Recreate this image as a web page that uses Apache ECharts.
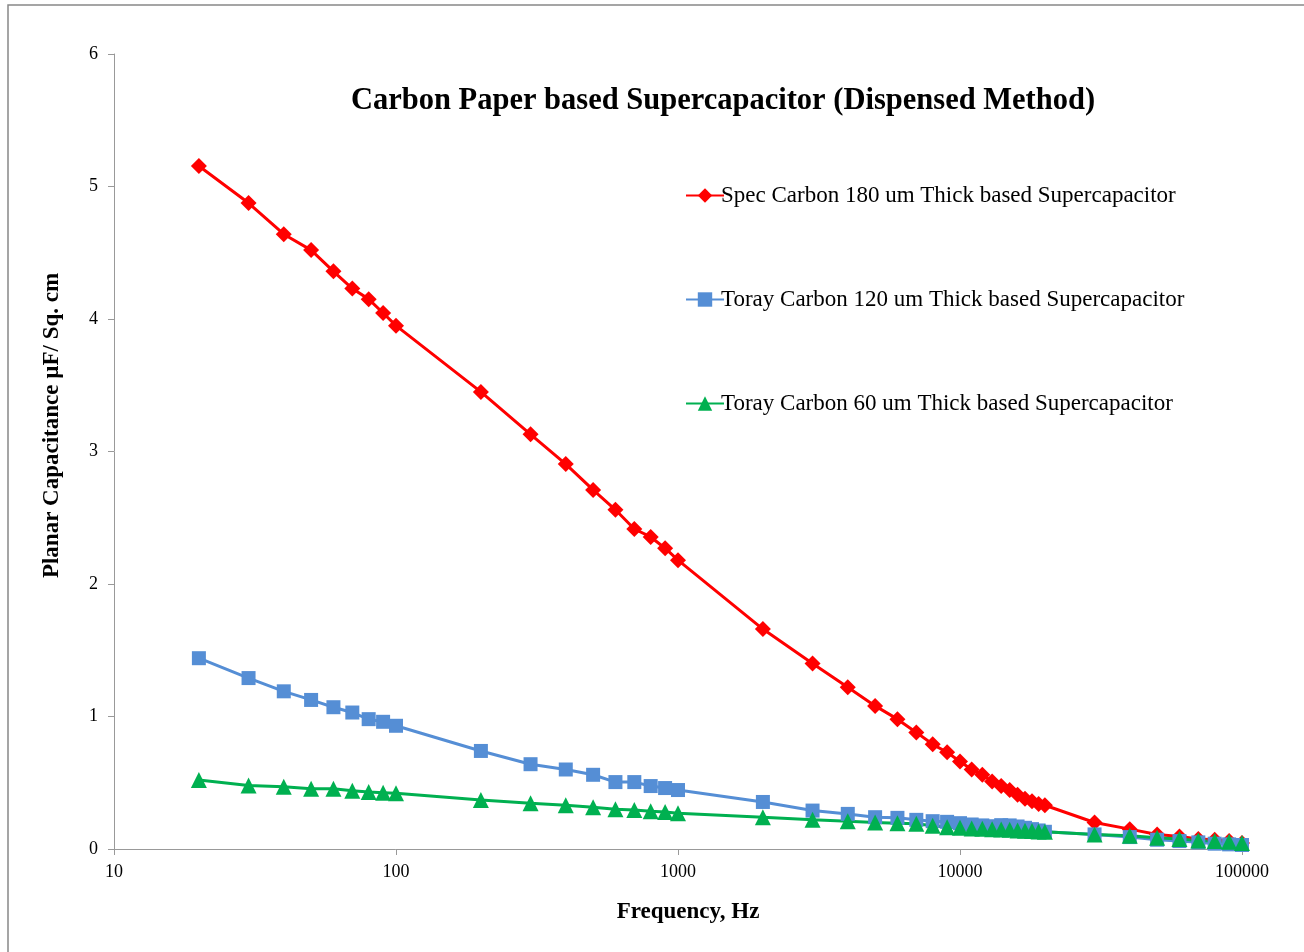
<!DOCTYPE html>
<html>
<head>
<meta charset="utf-8">
<script src="https://cdn.jsdelivr.net/npm/echarts@6/dist/echarts.min.js"></script>
<style>html,body{margin:0;padding:0;background:#fff}#c{width:1304px;height:952px}</style>
</head>
<body>
<div id="c"></div>
<script>
const freqs = [20,30,40,50,60,70,80,90,100,200,300,400,500,600,700,800,900,1000,2000,3000,4000,5000,6000,7000,8000,9000,10000,11000,12000,13000,14000,15000,16000,17000,18000,19000,20000,30000,40000,50000,60000,70000,80000,90000,100000];
const specCarbon180 = [5.155,4.875,4.64,4.52,4.36,4.23,4.15,4.045,3.95,3.45,3.13,2.905,2.71,2.56,2.415,2.355,2.27,2.18,1.66,1.40,1.22,1.08,0.98,0.88,0.79,0.73,0.66,0.60,0.56,0.51,0.475,0.445,0.41,0.38,0.36,0.34,0.33,0.20,0.15,0.11,0.095,0.075,0.07,0.06,0.045];
const toray120 = [1.44,1.29,1.19,1.125,1.07,1.03,0.98,0.96,0.93,0.74,0.64,0.60,0.56,0.505,0.505,0.475,0.46,0.445,0.355,0.29,0.265,0.24,0.235,0.22,0.21,0.205,0.195,0.185,0.178,0.172,0.18,0.178,0.17,0.16,0.15,0.14,0.13,0.11,0.09,0.07,0.06,0.05,0.04,0.035,0.03];
const toray60 = [0.52,0.48,0.47,0.455,0.455,0.44,0.43,0.425,0.42,0.37,0.345,0.33,0.315,0.30,0.295,0.285,0.28,0.27,0.24,0.22,0.21,0.20,0.195,0.19,0.175,0.165,0.16,0.155,0.152,0.15,0.148,0.145,0.14,0.138,0.135,0.132,0.13,0.11,0.10,0.085,0.075,0.065,0.06,0.055,0.045];
const seriesNames = ['Spec Carbon 180 um Thick based Supercapacitor','Toray Carbon 120 um Thick based Supercapacitor','Toray Carbon 60 um Thick based Supercapacitor'];
const titleText = 'Carbon Paper based Supercapacitor (Dispensed Method)';
const xName = 'Frequency, Hz';
const yName = 'Planar Capacitance µF/ Sq. cm';

const font = '"Liberation Serif", "Times New Roman", serif';
const pair = arr => freqs.map((f,i)=>[f,arr[i]]);
const chart = echarts.init(document.getElementById('c'));
function mk(name, data, color, symbol, size){
  return {name, type:'line', data:pair(data), symbol, symbolSize:size, showSymbol:true,
    lineStyle:{color, width:3}, itemStyle:{color}, z: 2};
}
chart.setOption({
  animation:false,
  backgroundColor:'#fff',
  graphic:[{type:'rect', shape:{x:8,y:5,width:1300,height:950}, style:{fill:'none', stroke:'#888', lineWidth:1.5}, silent:true}],
  title:{text:titleText, left:718, top:81, textAlign:'center',
    textStyle:{fontFamily:font, fontSize:30.5, fontWeight:'bold', color:'#000'}},
  legend:{orient:'vertical', left:680, top:179, itemGap:81, itemWidth:38, itemHeight:18,
    textStyle:{fontFamily:font, fontSize:23, color:'#000', padding:[0,0,0,-8]},
    data:seriesNames},
  grid:{left:114, right:62, top:54, bottom:103, containLabel:false},
  xAxis:{type:'log', logBase:10, min:10, max:100000,
    name:xName, nameLocation:'middle', nameGap:52,
    nameTextStyle:{fontFamily:font, fontSize:23, fontWeight:'bold', color:'#000', padding:[0,0,0,20]},
    axisLine:{lineStyle:{color:'#999', width:1}},
    axisTick:{show:true, length:6, inside:false, lineStyle:{color:'#999'}},
    minorTick:{show:false},
    splitLine:{show:false},
    axisLabel:{fontFamily:font, fontSize:18, color:'#000', margin:14, formatter: v => String(Math.round(v))}},
  yAxis:{type:'value', min:0, max:6, interval:1,
    name:yName, nameLocation:'middle', nameGap:50, nameRotate:90,
    nameTextStyle:{fontFamily:font, fontSize:23, fontWeight:'bold', color:'#000', padding:[0,0,0,52]},
    axisLine:{show:true, lineStyle:{color:'#999', width:1}},
    axisTick:{show:true, length:6, lineStyle:{color:'#999'}},
    splitLine:{show:false},
    axisLabel:{fontFamily:font, fontSize:18, color:'#000', margin:16}},
  series:[
    mk(seriesNames[0], specCarbon180, '#ff0000', 'diamond', 16),
    mk(seriesNames[1], toray120, '#558ed5', 'rect', 14),
    mk(seriesNames[2], toray60, '#00b050', 'triangle', 16)
  ]
});
</script>
</body>
</html>
